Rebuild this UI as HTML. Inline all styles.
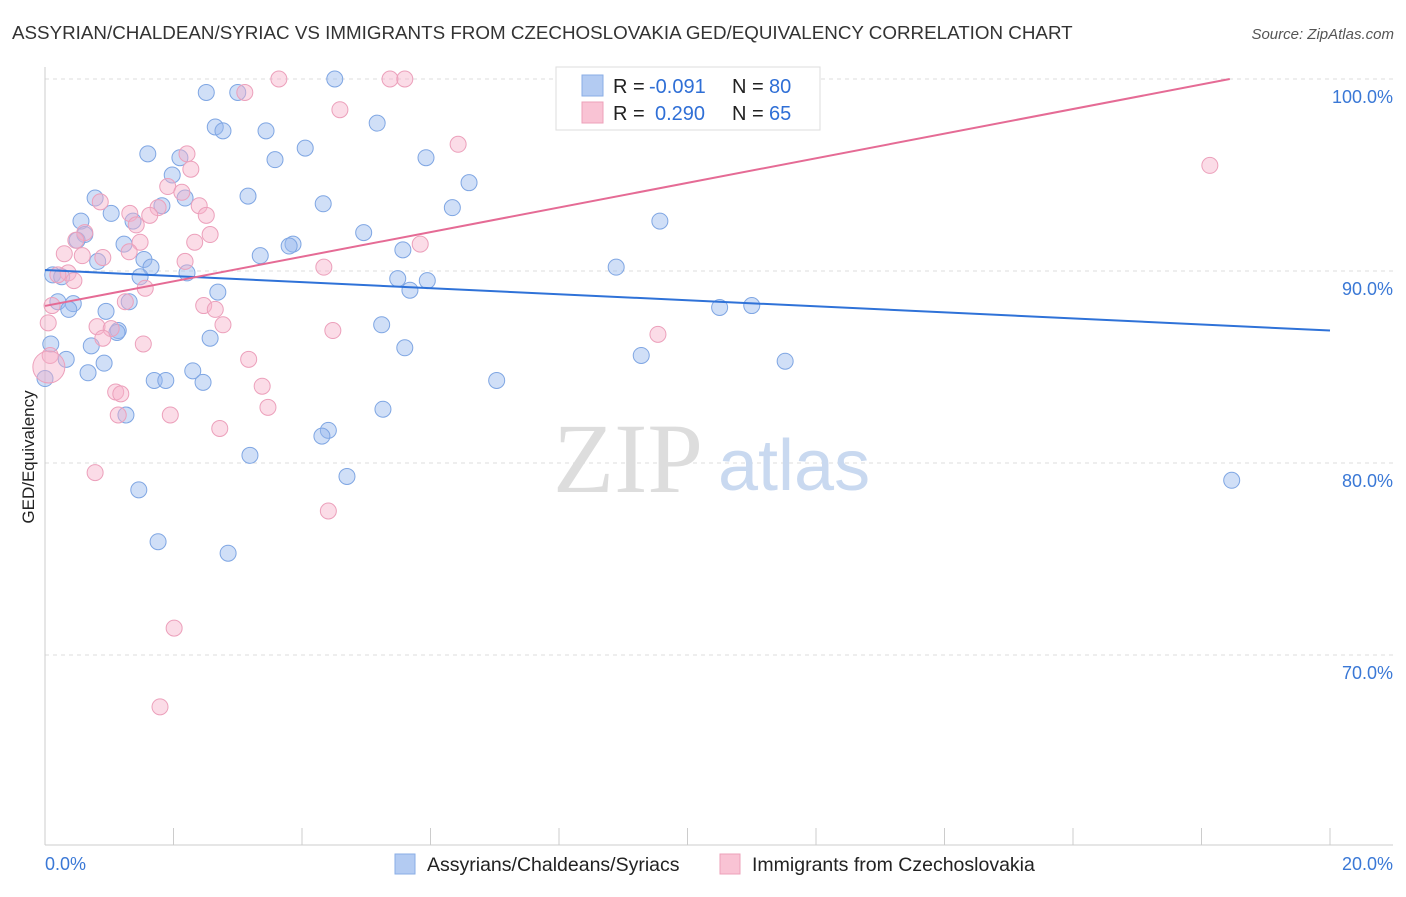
<!DOCTYPE html>
<html><head><meta charset="utf-8">
<style>
body{margin:0;background:#fff;font-family:"Liberation Sans",sans-serif;}
svg text{font-family:"Liberation Sans",sans-serif;}
</style></head>
<body>
<svg id="chart" width="1406" height="892" viewBox="0 0 1406 892" xmlns="http://www.w3.org/2000/svg">
<text x="12" y="39" font-size="18.8" fill="#333">ASSYRIAN/CHALDEAN/SYRIAC VS IMMIGRANTS FROM CZECHOSLOVAKIA GED/EQUIVALENCY CORRELATION CHART</text>
<text x="1394" y="39" font-size="15" fill="#555" text-anchor="end" font-style="italic">Source: ZipAtlas.com</text>
<g id="grid"></g>
<g id="axes"></g>
<text transform="translate(34,457) rotate(-90)" font-size="17" fill="#222" text-anchor="middle">GED/Equivalency</text>
<text x="553" y="492" font-size="100" fill="#ddd" style="font-family:'Liberation Serif',serif">ZIP</text>
<text x="718" y="490" font-size="72" fill="#c9d9f0">atlas</text>
<g id="pts-blue"></g>
<g id="pts-pink"></g>
<g id="lines"></g>
<g>
<rect x="556" y="67" width="264" height="63" fill="#fff" stroke="#ddd"/>
<rect x="582" y="75" width="21" height="21" fill="#b3cbf2" stroke="#8aaee6"/>
<rect x="582" y="102" width="21" height="21" fill="#f9c3d4" stroke="#eda0ba"/>
<text x="613" y="93" font-size="20" fill="#222">R =</text>
<text x="649" y="93" font-size="20" fill="#2f6fd6">-0.091</text>
<text x="732" y="93" font-size="20" fill="#222">N =</text>
<text x="769" y="93" font-size="20" fill="#2f6fd6">80</text>
<text x="613" y="120" font-size="20" fill="#222">R =</text>
<text x="655" y="120" font-size="20" fill="#2f6fd6">0.290</text>
<text x="732" y="120" font-size="20" fill="#222">N =</text>
<text x="769" y="120" font-size="20" fill="#2f6fd6">65</text>
</g>
<g>
<rect x="395" y="854" width="20" height="20" fill="#b3cbf2" stroke="#8aaee6"/>
<text x="427" y="871" font-size="19.5" fill="#222">Assyrians/Chaldeans/Syriacs</text>
<rect x="720" y="854" width="20" height="20" fill="#f9c3d4" stroke="#eda0ba"/>
<text x="752" y="871" font-size="19.5" fill="#222">Immigrants from Czechoslovakia</text>
</g>
</svg>
<script>
const yTicks=[100,90,80,70];
const xTickLabels=["0.0%","20.0%"];
const blueX=[4.51,2.51,3.0,2.65,2.77,3.44,5.17,4.05,1.6,2.1,3.58,5.93,1.98,6.6,0.78,2.18,3.16,4.33,6.34,1.82,1.03,0.56,9.57,1.37,4.96,0.62,0.5,1.23,3.86,3.8,5.57,3.35,1.54,0.82,1.65,8.89,2.21,1.48,0.12,0.26,5.49,5.95,5.68,2.69,0.2,0.44,1.31,0.37,0.95,10.5,11.0,5.24,1.14,1.12,2.57,0.09,0.72,5.6,9.28,0.33,0.92,11.52,2.3,0.67,1.7,1.88,2.46,7.03,0.0,5.26,1.26,4.41,4.31,3.19,4.7,18.47,1.46,1.76,2.85];
const blueY=[100,99.3,99.3,97.5,97.3,97.3,97.7,96.4,96.1,95.9,95.8,95.9,95.0,94.6,93.8,93.8,93.9,93.5,93.3,93.4,93.0,92.6,92.6,92.6,92.0,91.9,91.6,91.4,91.4,91.3,91.1,90.8,90.6,90.5,90.2,90.2,89.9,89.7,89.8,89.7,89.6,89.5,89.0,88.9,88.4,88.3,88.4,88.0,87.9,88.1,88.2,87.2,86.9,86.8,86.5,86.2,86.1,86.0,85.6,85.4,85.2,85.3,84.8,84.7,84.3,84.3,84.2,84.3,84.4,82.8,82.5,81.7,81.4,80.4,79.3,79.1,78.6,75.9,75.3];
const pinkX=[3.64,5.37,5.6,8.17,3.11,4.59,6.43,2.21,18.13,2.27,1.91,2.13,0.86,1.76,2.4,2.51,1.32,1.63,1.42,0.62,2.57,0.48,1.48,2.33,5.84,0.3,1.31,0.9,0.58,2.18,4.34,0.36,0.2,0.45,1.56,1.25,0.11,2.47,2.65,0.05,2.77,0.81,1.03,4.48,9.54,0.9,1.53,0.08,3.17,1.1,3.38,1.18,3.47,1.14,1.95,2.72,0.78,4.41,2.01,1.79,0.06];
const pinkY=[100,100,100,100,99.3,98.4,96.6,96.1,95.5,95.3,94.4,94.1,93.6,93.3,93.4,92.9,93.0,92.9,92.4,92.0,91.9,91.6,91.5,91.5,91.4,90.9,91.0,90.7,90.8,90.5,90.2,89.9,89.8,89.5,89.1,88.4,88.2,88.2,88.0,87.3,87.2,87.1,87.0,86.9,86.7,86.5,86.2,85.6,85.4,83.7,84.0,83.6,82.9,82.5,82.5,81.8,79.5,77.5,71.4,67.3,85.0];
const pinkSize=[8,8,8,8,8,8,8,8,8,8,8,8,8,8,8,8,8,8,8,8,8,8,8,8,8,8,8,8,8,8,8,8,8,8,8,8,8,8,8,8,8,8,8,8,8,8,8,8,8,8,8,8,8,8,8,8,8,8,8,8,16];
const blueTrend=[90.05,86.9];
const pinkTrend=[88.18,100];
const pinkTrendEndX=18.44;
const X0=45,X1=1330,YT=79,PXU=19.2;
const xs=v=>X0+(v/20)*(X1-X0);
const ys=v=>YT+(100-v)*PXU;
const NS="http://www.w3.org/2000/svg";
function mk(tag,attrs,parent){const e=document.createElementNS(NS,tag);for(const k in attrs)e.setAttribute(k,attrs[k]);parent.appendChild(e);return e;}
const grid=document.getElementById('grid');
const axes=document.getElementById('axes');
yTicks.forEach(t=>{
 const l=mk('line',{x1:X0,x2:1393,y1:ys(t),y2:ys(t),stroke:'#ddd','stroke-dasharray':'4,4'},grid);
 
 
 const tx=mk('text',{x:1393,y:ys(t)+24,'font-size':18,fill:'#3a78d6','text-anchor':'end'},axes);
 tx.textContent=t.toFixed(1)+'%';
 
 
});
mk('line',{x1:X0,x2:X0,y1:67,y2:845,stroke:'#ccc'},axes);
mk('line',{x1:X0,x2:1393,y1:845,y2:845,stroke:'#ccc'},axes);
for(let i=1;i<=10;i++){const x=xs(i*2);const t=mk('line',{x1:x,x2:x,y1:828,y2:845,stroke:'#ccc'},axes);
 
 }
const xl0=mk('text',{x:45,y:870,'font-size':18,fill:'#3a78d6'},axes);xl0.textContent=xTickLabels[0];


const xl1=mk('text',{x:1393,y:870,'font-size':18,fill:'#3a78d6','text-anchor':'end'},axes);xl1.textContent=xTickLabels[1];


const gb=document.getElementById('pts-blue');
blueX.forEach((x,i)=>{const c=mk('circle',{cx:xs(x),cy:ys(blueY[i]),r:8,fill:'rgba(150,185,238,0.45)',stroke:'#7fa6e3','stroke-width':1},gb);
 
 });
const gp=document.getElementById('pts-pink');
pinkX.forEach((x,i)=>{const c=mk('circle',{cx:xs(x),cy:ys(pinkY[i]),r:pinkSize[i],fill:'rgba(246,178,202,0.45)',stroke:'#eca0bb','stroke-width':1},gp);
 
 });
const gl=document.getElementById('lines');
const lb=mk('line',{x1:xs(0),y1:ys(blueTrend[0]),x2:xs(20),y2:ys(blueTrend[1]),stroke:'#2f72d8','stroke-width':2},gl);


const lp=mk('line',{x1:xs(0),y1:ys(pinkTrend[0]),x2:xs(pinkTrendEndX),y2:ys(pinkTrend[1]),stroke:'#e56b95','stroke-width':2},gl);


</script>
</body></html>
